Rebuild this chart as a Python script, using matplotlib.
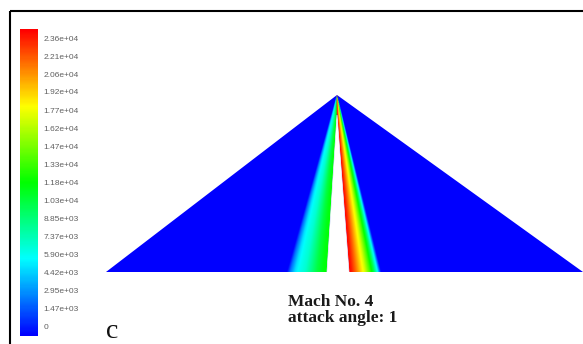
import numpy as np
import matplotlib
matplotlib.use("Agg")
import matplotlib.pyplot as plt
from matplotlib.colors import LinearSegmentedColormap
from matplotlib.patches import Polygon

# ---- data ----
cbar_values = [0, 1470, 2950, 4420, 5900, 7370, 8850, 10300, 11800,
               13300, 14700, 16200, 17700, 19200, 20600, 22100, 23600]
cbar_labels = ["0", "1.47e+03", "2.95e+03", "4.42e+03", "5.90e+03", "7.37e+03",
               "8.85e+03", "1.03e+04", "1.18e+04", "1.33e+04", "1.47e+04",
               "1.62e+04", "1.77e+04", "1.92e+04", "2.06e+04", "2.21e+04", "2.36e+04"]
vmax = 23600.0

# domain geometry (pixel-like units of the picture)
triangle_x = [106, 337, 583]
triangle_y = [272, 95, 272]
body_x = [327, 337, 349]          # white body (no data) region
body_y = [272, 115, 272]
fan_left_base_x = 287             # outer edge of left fan at base
fan_right_base_x = 381            # outer edge of right fan at base

# value profile across the left fan: 0 = outer edge, 1 = body edge
left_s = [0.0, 0.08, 0.2, 0.3, 0.45, 0.6, 0.75, 0.9, 1.0]
left_v = [0, 2600, 5200, 6200, 7000, 8600, 10300, 11400, 11800]
# value profile across the right fan: 0 = body edge, 1 = outer edge
right_s = [0.0, 0.08, 0.2, 0.35, 0.5, 0.65, 0.78, 0.9, 1.0]
right_v = [23600, 23000, 21300, 19000, 16700, 13300, 10000, 5500, 0]

title_lines = ["Mach No. 4", "attack angle: 1"]
panel_label = "c"

# ---- colormap (Fluent rainbow) ----
cmap = LinearSegmentedColormap.from_list(
    "fluent", [(0.0, (0, 0, 1)), (0.25, (0, 1, 1)), (0.5, (0, 1, 0)),
               (0.75, (1, 1, 0)), (1.0, (1, 0, 0))])

W, H = 583, 344
fig = plt.figure(figsize=(W / 100, H / 100), dpi=100)
ax = fig.add_axes([0, 0, 1, 1])
ax.set_xlim(0, W)
ax.set_ylim(H, 0)
ax.axis("off")

# frame lines
ax.plot([10, 10], [11, H], color="black", lw=1.5, solid_capstyle="butt")
ax.plot([10, W], [11, 11], color="black", lw=1.5, solid_capstyle="butt")

# ---- field ----
ax_x, ax_y = triangle_x[1], triangle_y[1]
base_y = triangle_y[0]
xs = np.arange(100, 584, 0.5)
ys = np.arange(90, 276, 0.5)
X, Y = np.meshgrid(xs, ys)
dy = np.clip(Y - ax_y, 0, None)
span = base_y - ax_y
Lout = ax_x + (fan_left_base_x - ax_x) / span * dy
Rout = ax_x + (fan_right_base_x - ax_x) / span * dy
bt = body_y[1]
bfrac = np.clip((Y - bt) / (base_y - bt), 0, None)
Wl = body_x[1] + (body_x[0] - body_x[1]) * bfrac
Wr = body_x[1] + (body_x[2] - body_x[1]) * bfrac
V = np.zeros_like(X)
mL = (X >= Lout) & (X < Wl)
sL = np.where(mL, (X - Lout) / np.maximum(Wl - Lout, 1e-6), 0)
V[mL] = np.interp(sL[mL], left_s, left_v)
mR = (X >= Wr) & (X <= Rout)
sR = np.where(mR, (X - Wr) / np.maximum(Rout - Wr, 1e-6), 0)
V[mR] = np.interp(sR[mR], right_s, right_v)

tri = Polygon(np.column_stack([triangle_x, triangle_y]), closed=True,
              facecolor="none", edgecolor="none")
ax.add_patch(tri)
im = ax.imshow(V, cmap=cmap, vmin=0, vmax=vmax, origin="upper",
               extent=[xs[0], xs[-1], ys[-1], ys[0]], interpolation="bilinear",
               aspect="auto", zorder=2)
im.set_clip_path(tri)
ax.add_patch(Polygon(np.column_stack([body_x, body_y]), closed=True,
                     facecolor="white", edgecolor="white", lw=0.5, zorder=3))
ax.set_xlim(0, W)
ax.set_ylim(H, 0)

# ---- texts ----
ax.text(288, 305.5, title_lines[0], family="Liberation Serif", weight="bold",
        fontsize=12.5, color="#1a1a1a", va="baseline", ha="left")
ax.text(288, 322, title_lines[1], family="Liberation Serif", weight="bold",
        fontsize=12.5, color="#1a1a1a", va="baseline", ha="left")
ax.text(106, 338, panel_label, family="Liberation Serif", fontsize=20,
        color="#111111", va="baseline", ha="left")

# ---- colorbar ----
step = cbar_values[1]
cax = fig.add_axes([20 / W, (H - 336) / H, 18 / W, 307 / H])
grad = np.linspace(0, vmax, 300).reshape(-1, 1)
cax.imshow(grad, cmap=cmap, vmin=0, vmax=vmax, origin="lower", aspect="auto",
           extent=[0, 1, -step / 2, vmax + step / 2])
cax.set_ylim(-step / 2, vmax + step / 2)
cax.set_xlim(0, 1)
cax.set_xticks([])
cax.yaxis.tick_right()
cax.set_yticks(cbar_values)
cax.set_yticklabels(cbar_labels, family="Liberation Sans", fontsize=6,
                    color="#606060")
cax.tick_params(axis="y", length=0, pad=4.2)
for sp in cax.spines.values():
    sp.set_visible(False)

fig.savefig("out.png", dpi=100)
